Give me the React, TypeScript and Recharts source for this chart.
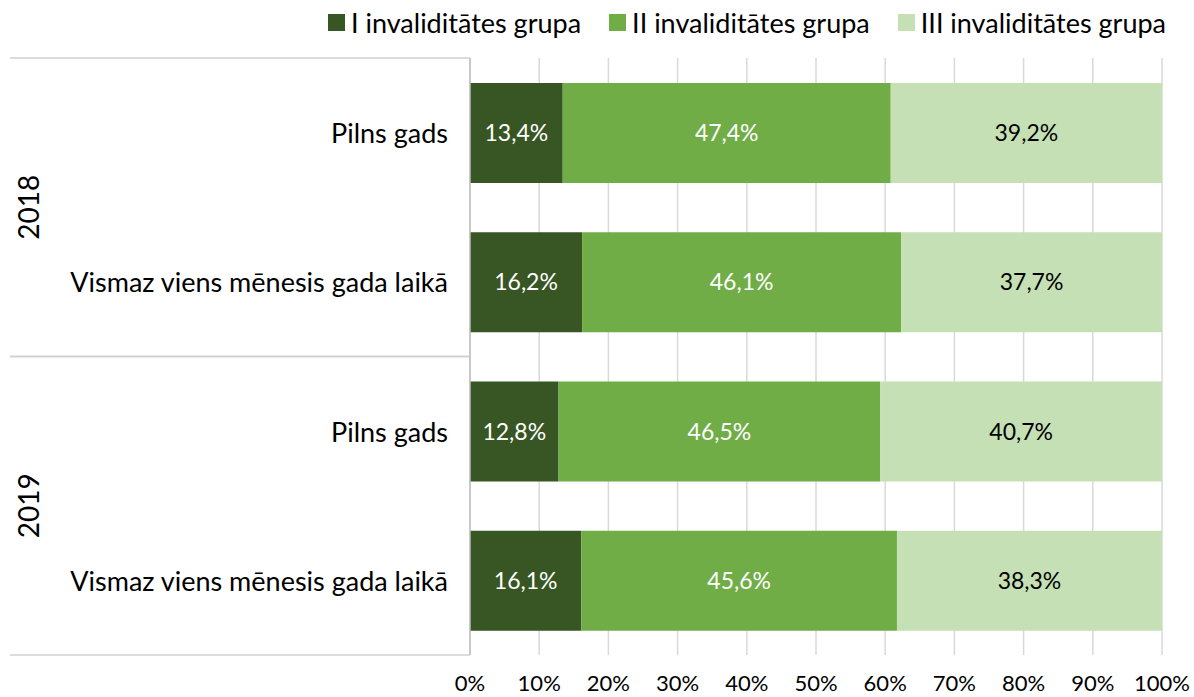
import React from 'react';
import { BarChart, Bar, XAxis, YAxis, CartesianGrid, Legend, LabelList } from 'recharts';

const rowLabels = ['Pilns gads', 'Vismaz viens mēnesis gada laikā', 'Pilns gads', 'Vismaz viens mēnesis gada laikā'];
const rowYears = ['2018', '2018', '2019', '2019'];
const groupI = [13.4, 16.2, 12.8, 16.1];
const groupII = [47.4, 46.1, 46.5, 45.6];
const groupIII = [39.2, 37.7, 40.7, 38.3];
const seriesNames = ['I invaliditātes grupa', 'II invaliditātes grupa', 'III invaliditātes grupa'];
const xTicks = [0, 10, 20, 30, 40, 50, 60, 70, 80, 90, 100];

const COLORS = ['#375623', '#70AD47', '#C5E0B4'];
const FONT = 'Lato, sans-serif';

const W = 1194;
const H = 697;
const MARGIN = { top: 18, right: 32, bottom: 0, left: 0 };
const LEGEND_H = 40;
const XAXIS_H = 42;
const YAXIS_W = 470;
const PLOT_H = H - MARGIN.top - LEGEND_H - XAXIS_H - MARGIN.bottom;

const data = rowLabels.map((label, i) => ({
  key: `${rowYears[i]}-${i}`,
  label,
  year: rowYears[i],
  g1: groupI[i],
  g2: groupII[i],
  g3: groupIII[i],
}));

const fmt = (v: any) => `${Number(v).toFixed(1).replace('.', ',')}%`;

function YTick(props: any) {
  const { x, y, index } = props;
  const band = PLOT_H / data.length;
  const row = data[index];
  if (!row) return null;
  const axisX = x + 22;
  const first = index === 0 || data[index - 1].year !== row.year;
  const last = index === data.length - 1 || data[index + 1].year !== row.year;
  return (
    <g>
      <text x={x} y={y} textAnchor="end" dominantBaseline="central" fontFamily={FONT} fontSize={27} fill="#000">
        {row.label}
      </text>
      {first && (
        <line x1={10} x2={axisX} y1={y - band / 2} y2={y - band / 2} stroke="#d0d0d0" strokeWidth={1.5} />
      )}
      {last && (
        <line x1={10} x2={axisX} y1={y + band / 2} y2={y + band / 2} stroke="#d0d0d0" strokeWidth={1.5} />
      )}
      {first && (
        <text
          x={28}
          y={y + band / 2}
          transform={`rotate(-90, 28, ${y + band / 2})`}
          textAnchor="middle"
          dominantBaseline="central"
          fontFamily={FONT}
          fontSize={28}
          fill="#000"
        >
          {row.year}
        </text>
      )}
    </g>
  );
}

function XTick(props: any) {
  const { x, y, payload } = props;
  return (
    <text x={x} y={y + 19} textAnchor="middle" dominantBaseline="central" fontFamily={FONT} fontSize={22} fill="#000">
      {`${payload.value}%`}
    </text>
  );
}

function LegendContent() {
  return (
    <div
      style={{
        height: LEGEND_H,
        display: 'flex',
        justifyContent: 'flex-end',
        alignItems: 'center',
        paddingRight: 28,
        fontFamily: FONT,
        fontSize: 27,
        color: '#000',
        boxSizing: 'border-box',
        whiteSpace: 'nowrap',
      }}
    >
      {seriesNames.map((n, i) => (
        <div key={n} style={{ display: 'flex', alignItems: 'center', marginLeft: i === 0 ? 0 : 28 }}>
          <span style={{ display: 'inline-block', width: 17, height: 17, background: COLORS[i], marginRight: 6 }} />
          <span>{n}</span>
        </div>
      ))}
    </div>
  );
}

export default function App() {
  return (
    <div style={{ position: 'absolute', left: 0, top: 0, width: W, height: H, background: '#fff', fontFamily: FONT }}>
      <BarChart width={W} height={H} data={data} layout="vertical" margin={MARGIN} barSize={100}>
        <CartesianGrid horizontal={false} vertical={true} stroke="#d9d9d9" strokeWidth={1.5} />
        <Legend
          verticalAlign="top"
          align="right"
          content={<LegendContent />}
          wrapperStyle={{ top: MARGIN.top - 16, left: 0, width: W, height: LEGEND_H }}
        />
        <XAxis
          type="number"
          domain={[0, 100]}
          ticks={xTicks}
          axisLine={false}
          tickLine={false}
          height={XAXIS_H}
          tick={<XTick />}
          interval={0}
        />
        <YAxis
          type="category"
          dataKey="key"
          width={YAXIS_W}
          tickLine={false}
          tickSize={0}
          tickMargin={22}
          axisLine={{ stroke: '#bfbfbf', strokeWidth: 1.5 }}
          tick={<YTick />}
          interval={0}
        />
        <Bar dataKey="g1" name={seriesNames[0]} stackId="a" fill={COLORS[0]} isAnimationActive={false}>
          <LabelList dataKey="g1" position="center" formatter={fmt} fill="#fff" fontFamily={FONT} fontSize={23} />
        </Bar>
        <Bar dataKey="g2" name={seriesNames[1]} stackId="a" fill={COLORS[1]} isAnimationActive={false}>
          <LabelList dataKey="g2" position="center" formatter={fmt} fill="#fff" fontFamily={FONT} fontSize={23} />
        </Bar>
        <Bar dataKey="g3" name={seriesNames[2]} stackId="a" fill={COLORS[2]} isAnimationActive={false}>
          <LabelList dataKey="g3" position="center" formatter={fmt} fill="#000" fontFamily={FONT} fontSize={23} />
        </Bar>
      </BarChart>
    </div>
  );
}
